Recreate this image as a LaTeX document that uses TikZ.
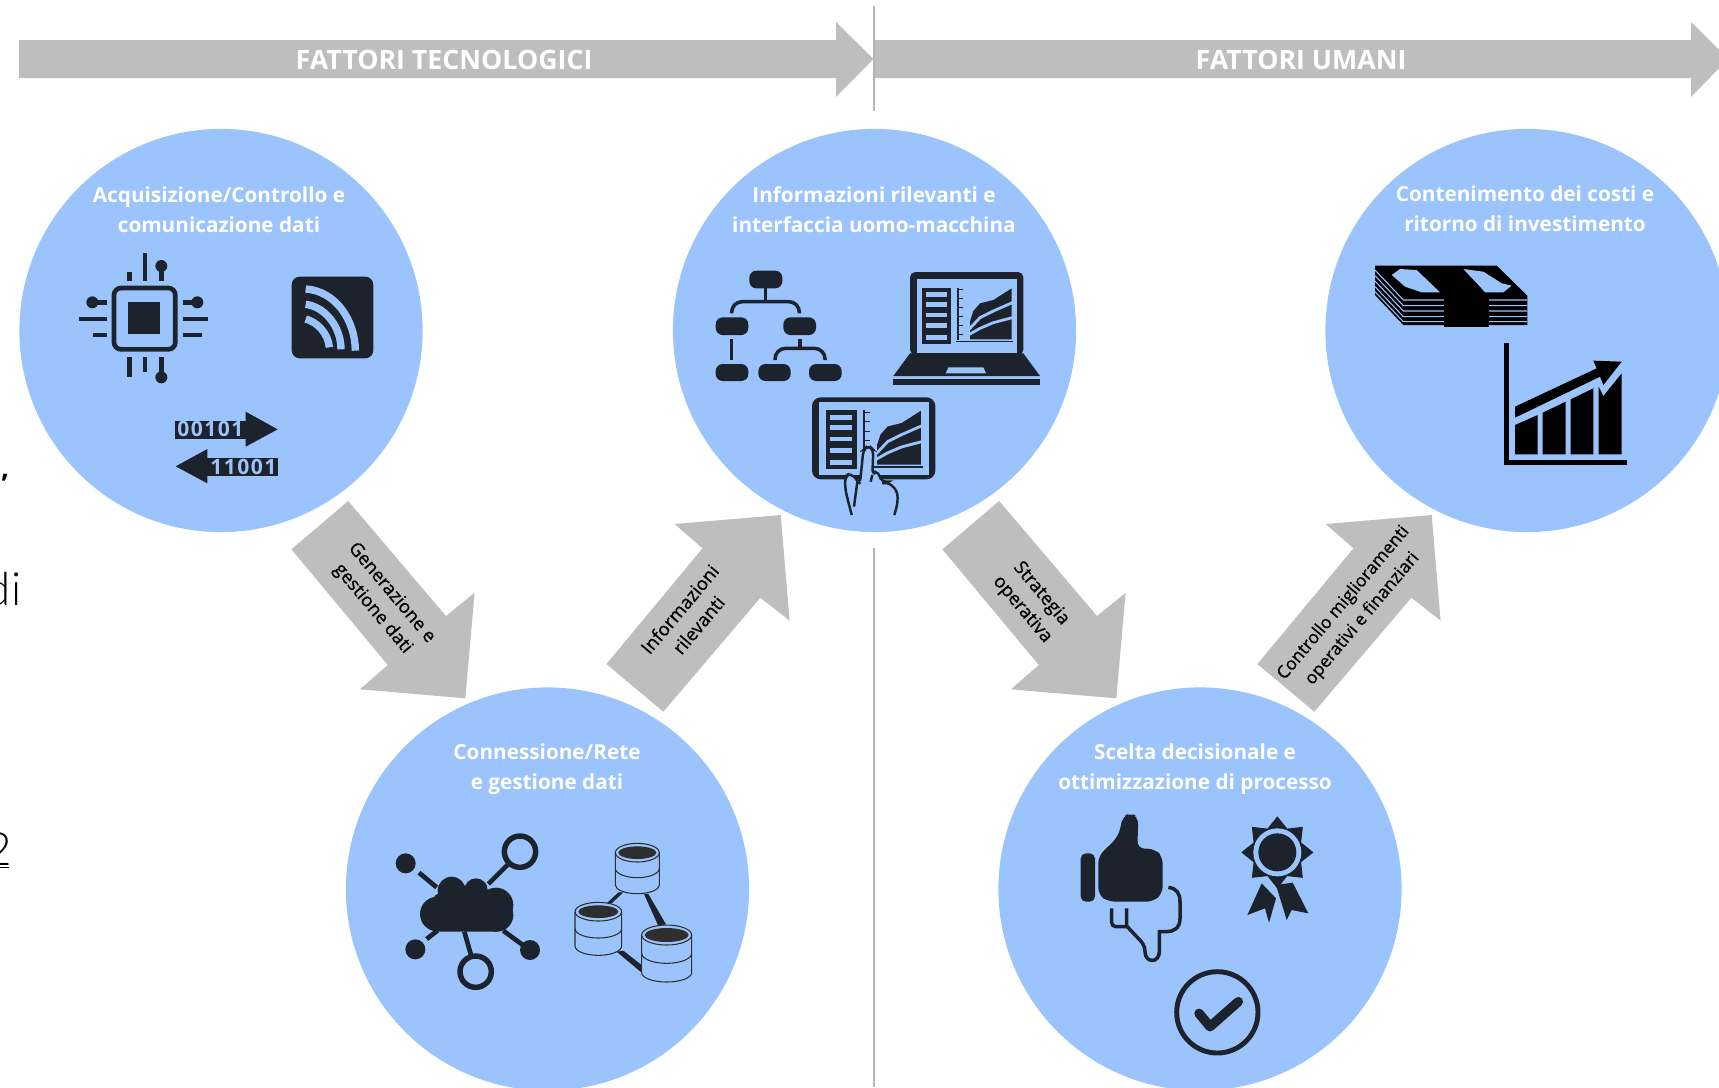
\documentclass[tikz,border=0pt]{standalone}
\usepackage{fontspec}
\setmainfont{Open Sans}
\newfontfamily\bitfont[LetterSpace=7]{Open Sans}
\newfontfamily\thinfont{Lato Light}
\newfontfamily\semifont[FakeBold=0.8]{Open Sans}
\usetikzlibrary{positioning,shapes.geometric}
\definecolor{circleblue}{HTML}{9BC4FD}
\definecolor{arrowgrey}{HTML}{BEBEBE}
\definecolor{sepgrey}{HTML}{B4B4B4}
\definecolor{icondark}{HTML}{1C232C}
\definecolor{dbdark}{HTML}{2E2E2E}

\begin{document}
\begin{tikzpicture}[x=0.01cm,y=-0.01cm]
  % styles
  \tikzset{factor/.style = {circle, fill=circleblue, minimum size=4.03cm, inner sep=0pt}}
  \tikzset{circlelabel/.style = {text=white, align=center, font=\fontsize{5.9}{8.53}\selectfont\bfseries, inner sep=0pt}}
  \tikzset{headlabel/.style = {text=white, font=\fontsize{7.6}{9}\selectfont\bfseries, inner sep=0pt}}
  \tikzset{arrowlabel/.style = {text=black, align=center, font=\fontsize{5.25}{7}\semifont, inner sep=0pt}}
  \tikzset{bitlabel/.style = {text=circleblue, font=\fontsize{6}{7}\bitfont\bfseries, inner sep=0pt}}
  \tikzset{straylabel/.style = {text=black, anchor=base east, inner sep=0pt, font=\fontsize{13}{15}\thinfont}}
  \tikzset{blockarrow/.style = {fill=arrowgrey}}
  \tikzset{sepline/.style = {draw=sepgrey, line width=0.55pt}}
  \tikzset{iconbar/.style = {draw=icondark, line width=1.33pt}}
  \tikzset{iconthin/.style = {draw=icondark, line width=1pt, rounded corners=1.2pt}}
  \tikzset{dbline/.style = {draw=dbdark, line width=0.3pt, fill=circleblue}}
  \tikzset{pill/.style = {fill=icondark, rounded corners=2pt}}
  \tikzset{zoomA/.style = {shift={(0,120)}, scale=1/3}}
  \tikzset{zoomB/.style = {shift={(660,120)}, scale=1/3}}
  \tikzset{zoomC/.style = {shift={(1320,120)}, scale=1/3}}
  \tikzset{zoomD/.style = {shift={(340,680)}, scale=1/3}}
  \tikzset{zoomE/.style = {shift={(1000,680)}, scale=1/3}}
  \tikzset{pics/dashscreen/.style = {code = {
    \fill[icondark] (0,0) rectangle (87,169);
    \fill[circleblue] (12,14) rectangle (75,27);
    \fill[circleblue] (12,44) rectangle (75,57);
    \fill[circleblue] (12,76) rectangle (75,89);
    \fill[circleblue] (12,107) rectangle (75,122);
    \fill[circleblue] (12,142) rectangle (75,157);
    \draw[icondark, line width=0.5pt] (108,0) -- (108,157);
    \draw[icondark, line width=0.3pt] (108,6) -- (125,6) (108,33) -- (125,33) (108,60) -- (125,60) (108,87) -- (125,87) (108,114) -- (125,114) (108,141) -- (125,141);
    \draw[icondark, line width=0.4pt] (103,162) -- (275,162);
    \fill[icondark] (145,155) -- (145,100) -- (155,70) -- (175,47) -- (215,37) -- (270,2) -- (270,155) -- cycle;
    \draw[circleblue, line width=0.8pt] (143,124) -- (175,90) -- (215,70) -- (272,45);
    \draw[circleblue, line width=0.8pt] (143,140) -- (175,122) -- (215,105) -- (272,90);
  }}}

  \clip (0,0) rectangle (1719,1087);
  \useasboundingbox (0,0) rectangle (1719,1087);

  % text cut off at the left edge
  \node[straylabel, font=\fontsize{8}{10}\selectfont\bfseries] (strayA) at (10,477) {,};
  \node[straylabel] (strayB) at (22,605) {di};
  \node[straylabel] (strayC) at (12.5,865) {2};
  \coordinate (underA) at (0,867.5);
  \coordinate (underB) at (9,867.5);
  \draw[black, line width=0.35pt] (underA) -- (underB);

  % separators
  \coordinate (sepA) at (874,6);
  \coordinate (sepB) at (874,111);
  \coordinate (sepC) at (874,548);
  \coordinate (sepD) at (874,1087);
  \draw[sepline] (sepC) -- (sepD);

  % header arrows
  \fill[blockarrow] (19,40) -- (836,40) -- (836,22) -- (873.5,59) -- (836,97) -- (836,78) -- (19,78) -- cycle;
  \fill[blockarrow] (874,40) -- (1691,40) -- (1691,22) -- (1728,59) -- (1691,97) -- (1691,78) -- (874,78) -- cycle;
  \draw[sepline] (sepA) -- (sepB);
  \node[headlabel] (headA) at (444,60) {FATTORI TECNOLOGICI};
  \node[headlabel] (headB) at (1301,60) {FATTORI UMANI};

  % circles
  \node[factor] (acq) at (221,330.5) {};
  \node[factor] (inf) at (874.5,330.5) {};
  \node[factor] (cost) at (1527,330.5) {};
  \node[factor] (rete) at (547.5,889) {};
  \node[factor] (scelta) at (1200,889) {};

  \node[circlelabel] (acqL) at (219,210) {Acquisizione/Controllo e\\comunicazione dati};
  \node[circlelabel] (infL) at (874,210) {Informazioni rilevanti e\\interfaccia uomo-macchina};
  \node[circlelabel] (costL) at (1525,209) {Contenimento dei costi e\\ritorno di investimento};
  \node[circlelabel] (reteL) at (547,769) {Connessione/Rete\\e gestione dati};
  \node[circlelabel] (sceltaL) at (1195,769) {Scelta decisionale e\\ottimizzazione di processo};

  % diagonal arrows
  \fill[blockarrow] (348.2,501) -- (291.4,549.3) -- (387.8,665) -- (359.9,689.3) -- (465.3,698.3) -- (474.6,592.7) -- (446,616) -- cycle;
  \fill[blockarrow] (606.4,664) -- (663.3,711.7) -- (760.4,597.7) -- (789.6,620.7) -- (780.7,515) -- (674.6,524) -- (702.5,548.3) -- cycle;
  \fill[blockarrow] (999.2,501) -- (942.4,549.3) -- (1038.8,665) -- (1010.9,689.3) -- (1116.3,698.3) -- (1125.6,592.7) -- (1097,616) -- cycle;
  \fill[blockarrow] (1257.4,664) -- (1314.3,711.7) -- (1411.4,597.7) -- (1440.6,620.7) -- (1431.7,515) -- (1325.6,524) -- (1353.5,548.3) -- cycle;

  \node[arrowlabel, rotate=-50] (genL) at (382,601) {Generazione e\\gestione dati};
  \node[arrowlabel, rotate=50] (infoL) at (689,617) {Informazioni\\rilevanti};
  \node[arrowlabel, rotate=-50] (stratL) at (1031.6,601.7) {Strategia\\operativa};
  \node[arrowlabel, rotate=50, font=\fontsize{5}{7}\semifont] (ctrlL) at (1353,611) {Controllo miglioramenti\\operativi e finanziari};

  % chip, wifi card, bits
  \begin{scope}[zoomA]
    \draw[icondark, line width=1.33pt, rounded corners=2pt] (342,504) rectangle (526,688);
    \fill[icondark] (383,547) rectangle (480,643);
    \draw[iconbar] (388,455) -- (388,483);
    \draw[iconbar] (435,400) -- (435,483);
    \draw[iconbar] (484,440) -- (484,483);
    \fill[icondark] (484,438) circle (18);
    \draw[iconbar] (277,547) -- (322,547);
    \draw[iconbar] (238,597) -- (322,597);
    \draw[iconbar] (278,645) -- (322,645);
    \fill[icondark] (277,547) circle (18);
    \draw[iconbar] (548,547) -- (592,547);
    \draw[iconbar] (548,597) -- (624,597);
    \draw[iconbar] (548,645) -- (607,645);
    \fill[icondark] (592,547) circle (18);
    \draw[iconbar] (388,712) -- (388,770);
    \draw[iconbar] (435,712) -- (435,755);
    \draw[iconbar] (484,712) -- (484,772);
    \fill[icondark] (484,772) circle (18);
    \fill[icondark, rounded corners=2.3pt] (875,470) rectangle (1120,715);
    \draw[circleblue, line width=2.1pt] (917,507) .. controls (1005,512) and (1066,600) .. (1066,692);
    \draw[circleblue, line width=2.1pt] (917,553) .. controls (975,560) and (1023,620) .. (1023,688);
    \draw[circleblue, line width=2.1pt] (917,597) .. controls (950,605) and (985,640) .. (988,682);
    \fill[icondark] (524,903) rectangle (737,957);
    \fill[icondark] (737,875) -- (833,928) -- (737,980) -- cycle;
    \fill[icondark] (622,1013) rectangle (835,1067);
    \fill[icondark] (622,987) -- (527,1039) -- (622,1090) -- cycle;
    \node[bitlabel] (bitsA) at (631,928) {00101};
    \node[bitlabel] (bitsB) at (730,1040) {11001};
  \end{scope}

  % org chart, laptop, tablet
  \begin{scope}[zoomB]
    \fill[pill] (268,452) rectangle (367,505);
    \fill[pill] (167,592) rectangle (265,645);
    \fill[pill] (370,592) rectangle (468,645);
    \fill[pill] (167,732) rectangle (265,783);
    \fill[pill] (295,732) rectangle (392,783);
    \fill[pill] (447,732) rectangle (545,783);
    \draw[iconthin] (317,505) -- (317,545);
    \draw[iconthin, rounded corners=3pt] (215,580) -- (215,545) -- (418,545) -- (418,580);
    \draw[icondark, line width=1pt] (215,658) -- (215,720);
    \draw[iconthin] (420,658) -- (420,685);
    \draw[iconthin, rounded corners=3pt] (345,720) -- (345,685) -- (495,685) -- (495,720);
    % laptop
    \fill[icondark, rounded corners=1.5pt] (750,705) -- (750,456) -- (1090,456) -- (1090,705) -- cycle;
    \fill[icondark] (750,700) -- (1090,700) -- (1140,768) -- (700,768) -- cycle;
    \fill[circleblue] (770,478) rectangle (1070,698);
    \fill[circleblue] (865,742) -- (970,742) -- (978,760) -- (857,760) -- cycle;
    \fill[icondark] (700,778) rectangle (1140,795);
    \pic[scale=1/3] (screenA) at (785,503) {dashscreen};
    % tablet
    \fill[icondark, rounded corners=2.5pt] (456,832) rectangle (826,1078);
    \fill[circleblue] (478,845) rectangle (806,1065);
    \pic[scale=0.3517] (screenB) at (498,870) {dashscreen};
    \draw[icondark, line width=0.7pt, fill=circleblue, rounded corners=1.5pt] (575,1185) -- (556,1110) -- (555,1070) -- (572,1058) -- (590,1080) -- (600,1090) -- (610,990) -- (625,975) -- (640,990) -- (637,1065) -- (650,1050) -- (668,1090) -- (682,1085) -- (712,1112) -- (713,1150) -- (703,1185);
    \draw[icondark, line width=0.7pt] (592,1085) -- (582,1160);
    \draw[icondark, line width=0.7pt] (637,1065) -- (632,1085);
  \end{scope}

  % money, growth chart
  \begin{scope}[zoomC]
    \fill[black] (165,437) -- (530,437) -- (622,527) -- (622,615) -- (250,615) -- (165,525) -- cycle;
    \draw[circleblue, line width=0.3pt] (165,450) -- (250,540) -- (622,540);
    \draw[circleblue, line width=0.3pt] (165,467) -- (250,557) -- (622,557);
    \draw[circleblue, line width=0.3pt] (165,483) -- (250,573) -- (622,573);
    \draw[circleblue, line width=0.3pt] (165,500) -- (250,590) -- (622,590);
    \draw[circleblue, line width=0.3pt] (165,515) -- (250,605) -- (622,605);
    \fill[black] (372,527) rectangle (507,620);
    \fill[circleblue] (215,465) -- (240,447) -- (290,450) -- (360,517) -- (305,517) -- (255,500) -- cycle;
    \fill[circleblue] (430,447) -- (490,455) -- (545,490) -- (575,497) -- (550,517) -- (495,517) -- (480,500) -- cycle;
    \fill[black] (553,668) rectangle (568,1035);
    \fill[black] (553,1020) rectangle (920,1035);
    \fill[black] (585,915) -- (653,885) -- (653,1003) -- (585,1003) -- cycle;
    \fill[black] (668,878) -- (737,845) -- (737,1003) -- (668,1003) -- cycle;
    \fill[black] (752,838) -- (820,805) -- (820,1003) -- (752,1003) -- cycle;
    \fill[black] (836,800) -- (850,828) -- (905,760) -- (905,1003) -- (836,1003) -- cycle;
    \fill[black] (585,860) -- (830,745) -- (820,722) -- (905,725) -- (850,795) -- (840,770) -- (585,893) -- cycle;
  \end{scope}

  % cloud network, databases
  \begin{scope}[zoomD]
    \fill[icondark] (292,702) circle (52);
    \fill[icondark] (335,632) circle (42);
    \fill[icondark] (408,630) circle (35);
    \fill[icondark] (468,675) circle (52);
    \fill[icondark] (470,705) circle (50);
    \fill[icondark, rounded corners=2pt] (280,640) rectangle (490,755);
    \draw[iconbar] (237,578) -- (290,622);
    \draw[iconbar] (445,612) -- (510,547);
    \draw[iconbar] (260,777) -- (292,752);
    \draw[iconbar] (490,752) -- (555,800);
    \draw[iconbar] (373,755) -- (393,825);
    \fill[icondark] (197,550) circle (30);
    \fill[icondark] (226,808) circle (30);
    \fill[icondark] (570,810) circle (30);
    \draw[icondark, line width=1.55pt] (540,515) circle (47);
    \draw[icondark, line width=1.55pt] (407,875) circle (47);
    \fill[icondark] (835,637) -- (850,637) -- (815,670) -- (800,670) -- cycle;
    \fill[icondark] (912,642) -- (925,642) -- (978,733) -- (955,738) -- cycle;
    \fill[icondark] (830,815) -- (850,812) -- (905,855) -- (905,878) -- cycle;
    \draw[dbline] (826,518) -- (826,615) arc[start angle=180, end angle=0, x radius=66, y radius=26] -- (958,518) arc[start angle=360, end angle=180, x radius=66, y radius=28] -- cycle;
    \draw[dbline, fill=none] (826,518) arc[start angle=180, end angle=0, x radius=66, y radius=28];
    \draw[dbline, fill=none] (826,565) arc[start angle=180, end angle=0, x radius=66, y radius=28];
    \fill[dbdark] (892,518) ellipse [x radius=57, y radius=19];
    \draw[dbline] (705,695) -- (705,798) arc[start angle=180, end angle=0, x radius=70, y radius=28] -- (845,695) arc[start angle=360, end angle=180, x radius=70, y radius=28] -- cycle;
    \draw[dbline, fill=none] (705,695) arc[start angle=180, end angle=0, x radius=70, y radius=28];
    \draw[dbline, fill=none] (705,746) arc[start angle=180, end angle=0, x radius=70, y radius=28];
    \fill[dbdark] (775,695) ellipse [x radius=60, y radius=19];
    \draw[dbline] (905,765) -- (905,878) arc[start angle=180, end angle=0, x radius=75, y radius=28] -- (1055,765) arc[start angle=360, end angle=180, x radius=75, y radius=30] -- cycle;
    \draw[dbline, fill=none] (905,765) arc[start angle=180, end angle=0, x radius=75, y radius=30];
    \draw[dbline, fill=none] (905,820) arc[start angle=180, end angle=0, x radius=75, y radius=30];
    \fill[dbdark] (980,765) ellipse [x radius=66, y radius=21];
  \end{scope}

  % thumbs, rosette, check mark
  \begin{scope}[zoomE]
    \fill[icondark, rounded corners=1.5pt] (242,520) rectangle (285,665);
    \fill[icondark, rounded corners=2pt] (295,528) -- (350,475) -- (362,445) -- (367,410) -- (392,398) -- (415,412) -- (412,505) -- (465,507) -- (488,530) -- (488,640) -- (460,665) -- (325,665) -- (295,645) -- cycle;
    \draw[icondark, line width=1pt] (505,622) .. controls (530,625) and (540,640) .. (540,665) -- (540,715) .. controls (540,745) and (520,755) .. (500,755) -- (478,755) -- (478,815) .. controls (478,850) and (435,850) .. (435,815) .. controls (435,795) and (425,785) .. (410,770) -- (380,738) -- (380,685);
    \draw[iconthin] (335,685) -- (335,740) -- (380,740);
    \node[star, star points=8, star point ratio=1.4, minimum size=0.72cm, inner sep=0pt, fill=icondark] (rosette) at (832,517) {};
    \fill[circleblue] (832,517) circle (72);
    \fill[icondark] (832,517) circle (57);
    \fill[icondark] (785,610) -- (828,655) -- (807,728) -- (795,685) -- (742,705) -- cycle;
    \fill[icondark] (828,615) -- (878,608) -- (925,700) -- (875,690) -- (860,720) -- cycle;
    \draw[icondark, line width=1.4pt] (652,997) circle (122);
    \draw[icondark, line width=2.7pt, line cap=round, line join=round] (597,1000) -- (630,1040) -- (715,965);
  \end{scope}
\end{tikzpicture}
\end{document}
